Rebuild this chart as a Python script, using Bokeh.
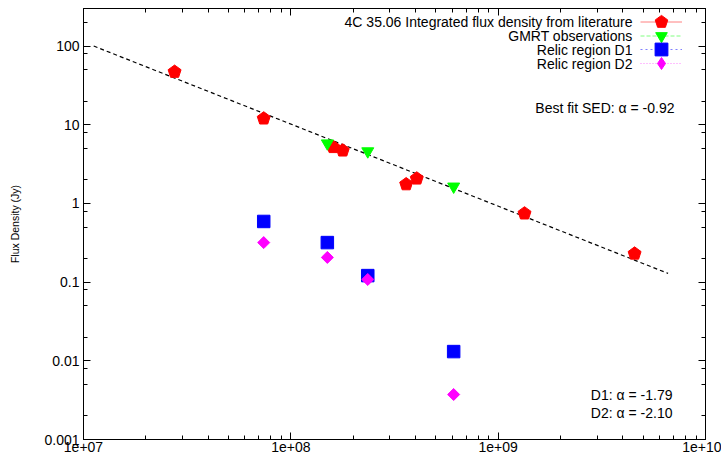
import numpy as np
from bokeh.plotting import figure
from bokeh.models import (ColumnDataSource, FixedTicker, LogAxis, Legend,
                          LegendItem, Label, Range1d)
from bokeh.embed import file_html
from bokeh.resources import INLINE

# ---------------- data ----------------
lit_freq = [2.75e7, 7.4e7, 1.6e8, 1.78e8, 3.6e8, 4.05e8, 1.34e9, 4.55e9]
lit_flux = [47.0, 12.0, 5.2, 4.7, 1.75, 2.07, 0.745, 0.23]

gmrt_freq = [1.5e8, 2.35e8, 6.1e8]
gmrt_flux = [5.8, 4.6, 1.64]

relic_freq = [7.4e7, 1.5e8, 2.35e8, 6.1e8]
d1_flux = [0.59, 0.318, 0.121, 0.0131]
d2_flux = [0.318, 0.206, 0.108, 0.00373]

fit_freq = [1.12e7, 6.6e9]
fit_flux = [100.0, 0.129]

legend_labels = ["4C 35.06 Integrated flux density from literature",
                 "GMRT observations", "Relic region D1", "Relic region D2"]
fit_text = "Best fit SED: \u03b1 = -0.92"
d_texts = ["D1: \u03b1 = -1.79", "D2: \u03b1 = -2.10"]

x_ticks = [1e7, 1e8, 1e9, 1e10]
x_tick_labels = ["1e+07", "1e+08", "1e+09", "1e+10"]
y_ticks = [0.001, 0.01, 0.1, 1, 10, 100]
y_tick_labels = ["0.001", "0.01", "0.1", "1", "10", "100"]
x_minor = [m * 10.0 ** e for e in range(7, 10) for m in range(2, 10)]
y_minor = [m * 10.0 ** e for e in range(-3, 3) for m in (2, 5, 8)]

FONT = "Liberation Sans"
NAN = float("nan")

p = figure(width=721, height=458, x_axis_type="log", y_axis_type="log",
           x_range=Range1d(1e7, 1e10), y_range=Range1d(1e-3, 300),
           output_backend="svg", toolbar_location=None,
           min_border_left=83, min_border_right=16, min_border_top=8,
           min_border_bottom=19)
p.grid.visible = False
p.outline_line_color = "black"
p.outline_line_width = 1

xt = FixedTicker(ticks=x_ticks, minor_ticks=x_minor)
yt = FixedTicker(ticks=y_ticks, minor_ticks=y_minor)


def style(ax, ticker, labels, ticks, show):
    ax.ticker = ticker
    ax.major_tick_in = 7
    ax.major_tick_out = 0
    ax.minor_tick_in = 4
    ax.minor_tick_out = 0
    ax.axis_line_color = "black"
    ax.major_tick_line_color = "black"
    ax.minor_tick_line_color = "black"
    if show:
        ax.major_label_overrides = {t: l for t, l in zip(ticks, labels)}
        ax.major_label_text_font = FONT
        ax.major_label_text_font_size = "14px"
        ax.major_label_text_color = "black"
    else:
        ax.major_label_overrides = {t: "" for t in ticks}
        ax.major_label_text_font_size = "0px"
        ax.major_label_standoff = 0


style(p.xaxis[0], xt, x_tick_labels, x_ticks, True)
style(p.yaxis[0], yt, y_tick_labels, y_ticks, True)
p.xaxis[0].major_label_standoff = 2
p.yaxis[0].major_label_standoff = 4
p.yaxis[0].axis_label = "Flux Density (Jy)"
p.yaxis[0].axis_label_text_font = FONT
p.yaxis[0].axis_label_text_font_size = "10.5px"
p.yaxis[0].axis_label_text_font_style = "normal"
p.yaxis[0].axis_label_text_color = "black"
p.yaxis[0].axis_label_standoff = 20

top = LogAxis()
style(top, FixedTicker(ticks=x_ticks, minor_ticks=x_minor), None, x_ticks, False)
p.add_layout(top, "above")
right = LogAxis()
style(right, FixedTicker(ticks=y_ticks, minor_ticks=y_minor), None, y_ticks, False)
p.add_layout(right, "right")

# fit line
p.line(fit_freq, fit_flux, line_color="black", line_dash="4 3", line_width=1.2)

# data
lit_src = ColumnDataSource(dict(x=lit_freq, y=lit_flux))
r_lit = p.ngon(x="x", y="y", radius=6.8, radius_units="screen", n=5,
               angle=0, fill_color="#ff0000", line_color="#ff0000",
               source=lit_src)
r_gmrt = p.scatter(gmrt_freq, gmrt_flux, marker="inverted_triangle", size=12,
                   fill_color="#00ff00", line_color="#00ff00")
r_d1 = p.scatter(relic_freq, d1_flux, marker="square", size=12.5,
                 fill_color="#0000ff", line_color="#0000ff")
r_d2 = p.scatter(relic_freq, d2_flux, marker="square", angle=np.pi / 4,
                 size=8.5, fill_color="#ff00ff", line_color="#ff00ff")

# legend sample lines (error-bar style) and the diamond key
l_lit = p.line(x=[NAN], y=[NAN], line_color="#ff8080", line_width=1)
l_gmrt = p.line(x=[NAN], y=[NAN], line_color="#80ff80", line_width=1, line_dash="4 2")
l_d1 = p.line(x=[NAN], y=[NAN], line_color="#8080ff", line_width=1, line_dash="2 3")
l_d2 = p.line(x=[NAN], y=[NAN], line_color="#ff80ff", line_width=1, line_dash="1 2")
k_d2 = p.scatter(x=[NAN], y=[NAN], marker="diamond", size=12,
                 fill_color="#ff00ff", line_color="#ff00ff")

# one legend per row so that the key markers can be full size
rows = [([l_lit, r_lit], 33, 21), ([l_gmrt, r_gmrt], 29, 35),
        ([l_d1, r_d1], 32, 49), ([l_d2, k_d2], 30, 63)]
for rends, gh, cy in rows:
    lg = Legend(items=[LegendItem(label=" ", renderers=rends)],
                location=(557, (439 - cy) - gh / 2), glyph_width=42,
                glyph_height=gh, label_height=gh, label_width=0,
                label_standoff=0, spacing=0, padding=0, margin=0,
                border_line_color=None, background_fill_alpha=0,
                label_text_font_size="1px")
    p.add_layout(lg)

for txt, cy in zip(legend_labels, [21, 35, 49, 63]):
    p.add_layout(Label(x=549, y=439 - cy, x_units="screen", y_units="screen",
                       text=txt, text_align="right", text_baseline="middle",
                       text_font=FONT, text_font_size="14px",
                       text_color="black"))

p.add_layout(Label(x=591, y=332, x_units="screen", y_units="screen",
                   text=fit_text, text_align="right", text_baseline="middle",
                   text_font=FONT, text_font_size="14px", text_color="black"))
for txt, yy in zip(d_texts, [45, 27]):
    p.add_layout(Label(x=589, y=yy, x_units="screen", y_units="screen",
                       text=txt, text_align="right", text_baseline="middle",
                       text_font=FONT, text_font_size="14px",
                       text_color="black"))

open("out.html", "w").write(file_html(p, INLINE))
